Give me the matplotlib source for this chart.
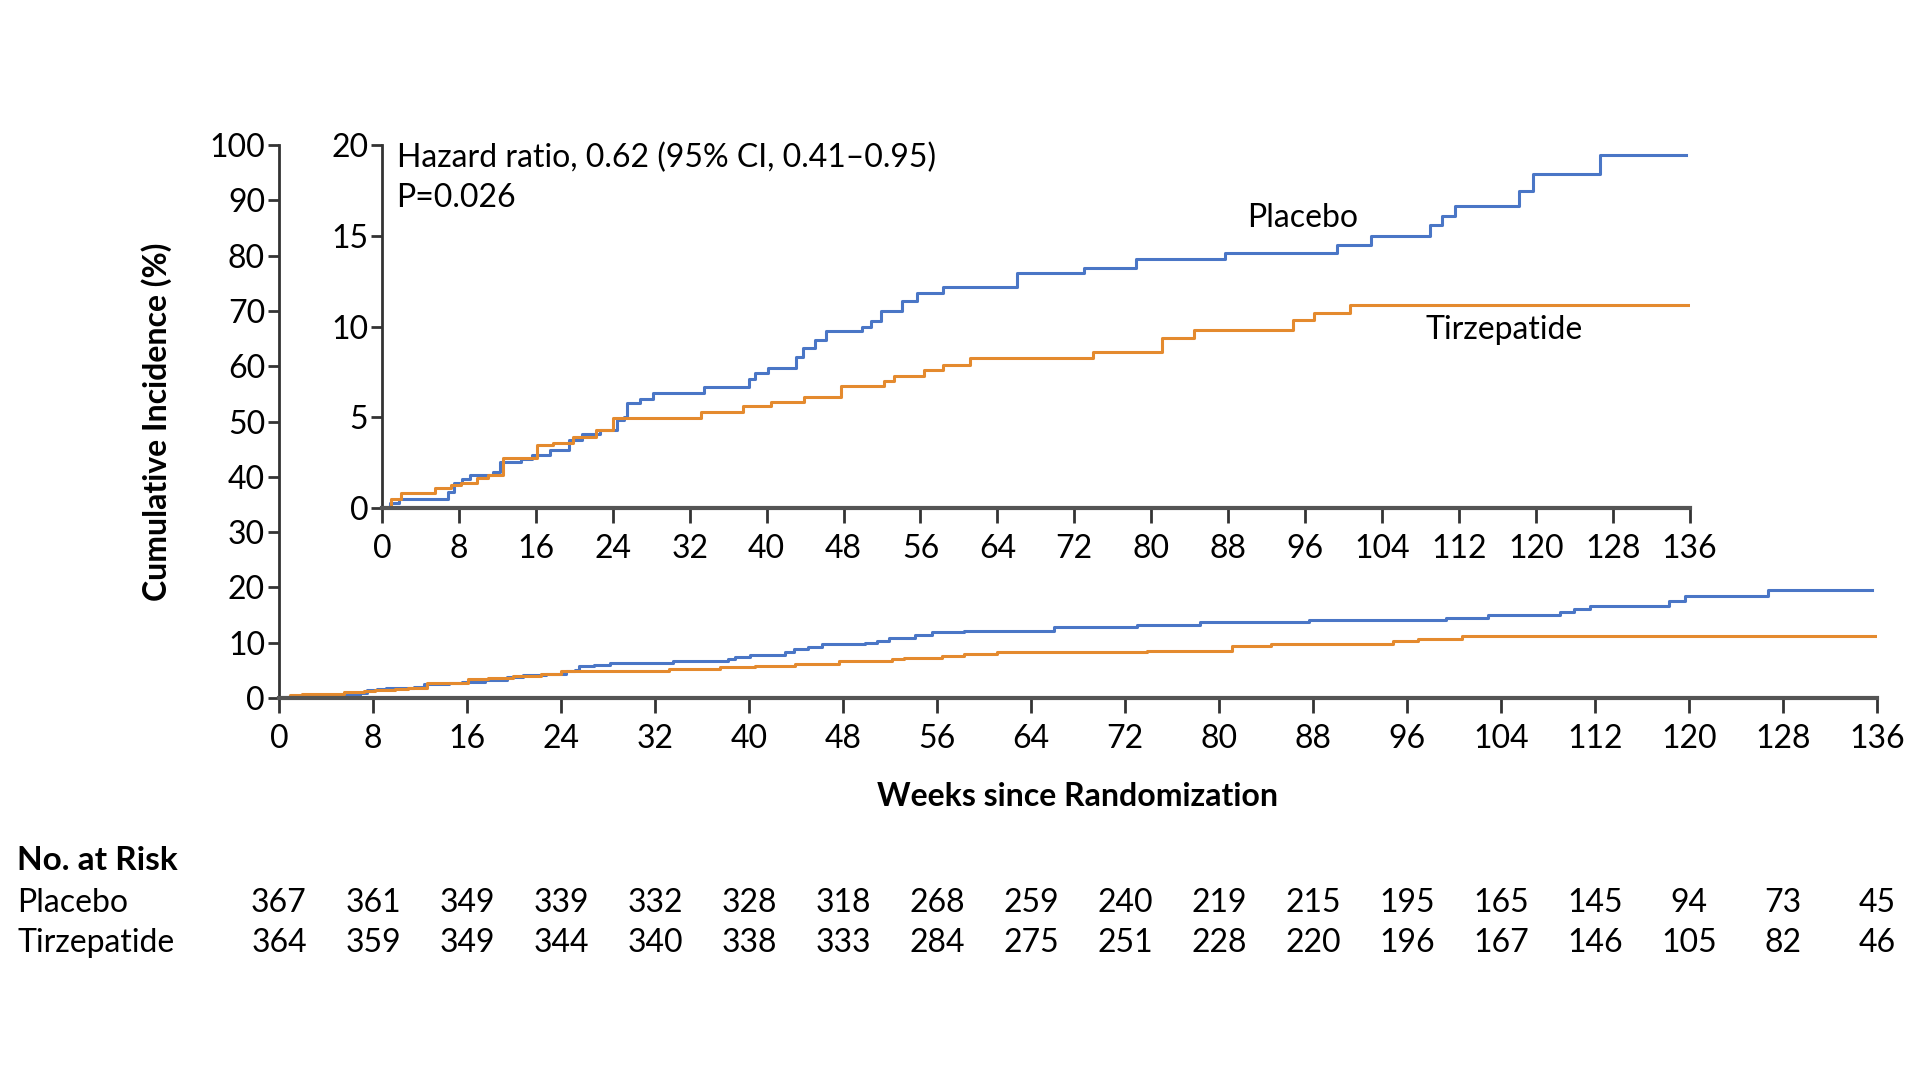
import matplotlib.pyplot as plt
import matplotlib.transforms as mtransforms

plt.rcParams['font.family'] = ['Lato', 'DejaVu Sans']

# Cumulative incidence step curves (weeks, %)
placebo_weeks = [0, 0.8, 1.8, 6.9, 7.5, 8.3, 9.1, 11.5, 12.3, 14.5, 15.6, 17.5, 19.4, 20.8,
                 22.7, 24.4, 25.2, 25.5, 26.8, 28.2, 33.5, 38.2, 38.8, 40.1, 43.1, 43.8,
                 45.0, 46.2, 49.9, 50.9, 51.9, 54.1, 55.6, 58.3, 66.0, 73.0, 78.4, 87.7,
                 99.3, 102.9, 109.0, 110.2, 111.6, 118.3, 119.7, 126.7, 135.6]
placebo_inc = [0, 0.25, 0.48, 0.9, 1.38, 1.6, 1.8, 2.0, 2.56, 2.7, 2.9, 3.2, 3.75, 4.1,
               4.3, 4.86, 5.0, 5.8, 6.0, 6.35, 6.67, 7.1, 7.46, 7.73, 8.3, 8.8,
               9.28, 9.74, 10.0, 10.3, 10.85, 11.4, 11.87, 12.2, 12.93, 13.24, 13.7, 14.07,
               14.5, 15.0, 15.58, 16.1, 16.65, 17.48, 18.4, 19.45, 19.45]

tirz_weeks = [0, 0.9, 2.0, 5.5, 7.2, 8.2, 9.9, 11.0, 12.6, 16.1, 17.8, 19.9, 22.3, 24.0,
              33.2, 37.5, 40.5, 43.9, 47.7, 52.2, 53.2, 56.4, 58.3, 61.1, 73.9, 81.1,
              84.4, 94.8, 96.9, 100.7, 135.8]
tirz_inc = [0, 0.5, 0.81, 1.09, 1.25, 1.4, 1.65, 1.8, 2.74, 3.48, 3.6, 3.94, 4.3, 4.95,
            5.27, 5.6, 5.82, 6.11, 6.7, 7.0, 7.29, 7.59, 7.9, 8.27, 8.58, 9.38,
            9.8, 10.35, 10.76, 11.2, 11.2]

# Number at risk
risk_weeks = list(range(0, 137, 8))
risk_placebo = [367, 361, 349, 339, 332, 328, 318, 268, 259, 240, 219, 215, 195, 165, 145, 94, 73, 45]
risk_tirz = [364, 359, 349, 344, 340, 338, 333, 284, 275, 251, 228, 220, 196, 167, 146, 105, 82, 46]

blue = '#4a76c6'
orange = '#e48a2e'
axcol = '#333333'
fs = 23

fig = plt.figure(figsize=(19.2, 10.8), dpi=100)
ax = fig.add_axes([0.1453, 0.3537, 0.8323, 0.512])
ax.step(placebo_weeks, placebo_inc, where='post', color=blue, lw=2.2)
ax.step(tirz_weeks, tirz_inc, where='post', color=orange, lw=2.2)
ax.set_xlim(0, 136)
ax.set_ylim(0, 100)
ax.set_xticks(range(0, 137, 8))
ax.set_yticks(range(0, 101, 10))
for s in ['top', 'right']:
    ax.spines[s].set_visible(False)
ax.spines['left'].set_linewidth(2)
ax.spines['left'].set_color(axcol)
ax.spines['bottom'].set_linewidth(3)
ax.spines['bottom'].set_color('#555555')
ax.tick_params(axis='x', length=11, width=2, color=axcol, pad=8, labelsize=fs)
ax.tick_params(axis='y', length=8, width=2, color=axcol, pad=2, labelsize=fs)
ax.set_xlabel('Weeks since Randomization', fontsize=fs, fontweight='bold', labelpad=20)
ax.set_ylabel('Cumulative Incidence (%)', fontsize=fs, fontweight='bold', labelpad=27)

# inset
ins = fig.add_axes([0.199, 0.5296, 0.681, 0.3361])
ins.set_facecolor('white')
ins.step(placebo_weeks, placebo_inc, where='post', color=blue, lw=2.2)
ins.step(tirz_weeks, tirz_inc, where='post', color=orange, lw=2.2)
ins.set_xlim(0, 136)
ins.set_ylim(0, 20)
ins.set_xticks(range(0, 137, 8))
ins.set_yticks(range(0, 21, 5))
for s in ['top', 'right']:
    ins.spines[s].set_visible(False)
ins.spines['left'].set_linewidth(2)
ins.spines['left'].set_color(axcol)
ins.spines['bottom'].set_linewidth(3)
ins.spines['bottom'].set_color('#555555')
ins.tick_params(axis='x', length=11, width=2, color=axcol, pad=8, labelsize=fs)
ins.tick_params(axis='y', length=8, width=2, color=axcol, pad=2, labelsize=fs)
ins.text(1.5, 19.3, 'Hazard ratio, 0.62 (95% CI, 0.41\u20130.95)', fontsize=fs, va='center')
ins.text(1.5, 17.1, 'P=0.026', fontsize=fs, va='center')
ins.text(95.7, 16.0, 'Placebo', fontsize=fs, ha='center', va='center')
ins.text(116.7, 9.8, 'Tirzepatide', fontsize=fs, ha='center', va='center')

# number at risk table
trans = mtransforms.blended_transform_factory(ax.transData, fig.transFigure)
fig.text(0.009, 1 - 861 / 1080, 'No. at Risk', fontsize=fs + 1, fontweight='bold', va='center')
fig.text(0.009, 1 - 903 / 1080, 'Placebo', fontsize=fs, va='center')
fig.text(0.009, 1 - 943 / 1080, 'Tirzepatide', fontsize=fs, va='center')
for w, p, t in zip(risk_weeks, risk_placebo, risk_tirz):
    ax.text(w, 1 - 903 / 1080, str(p), transform=trans, fontsize=fs, ha='center', va='center', clip_on=False)
    ax.text(w, 1 - 943 / 1080, str(t), transform=trans, fontsize=fs, ha='center', va='center', clip_on=False)

fig.savefig('out.png', dpi=100)
